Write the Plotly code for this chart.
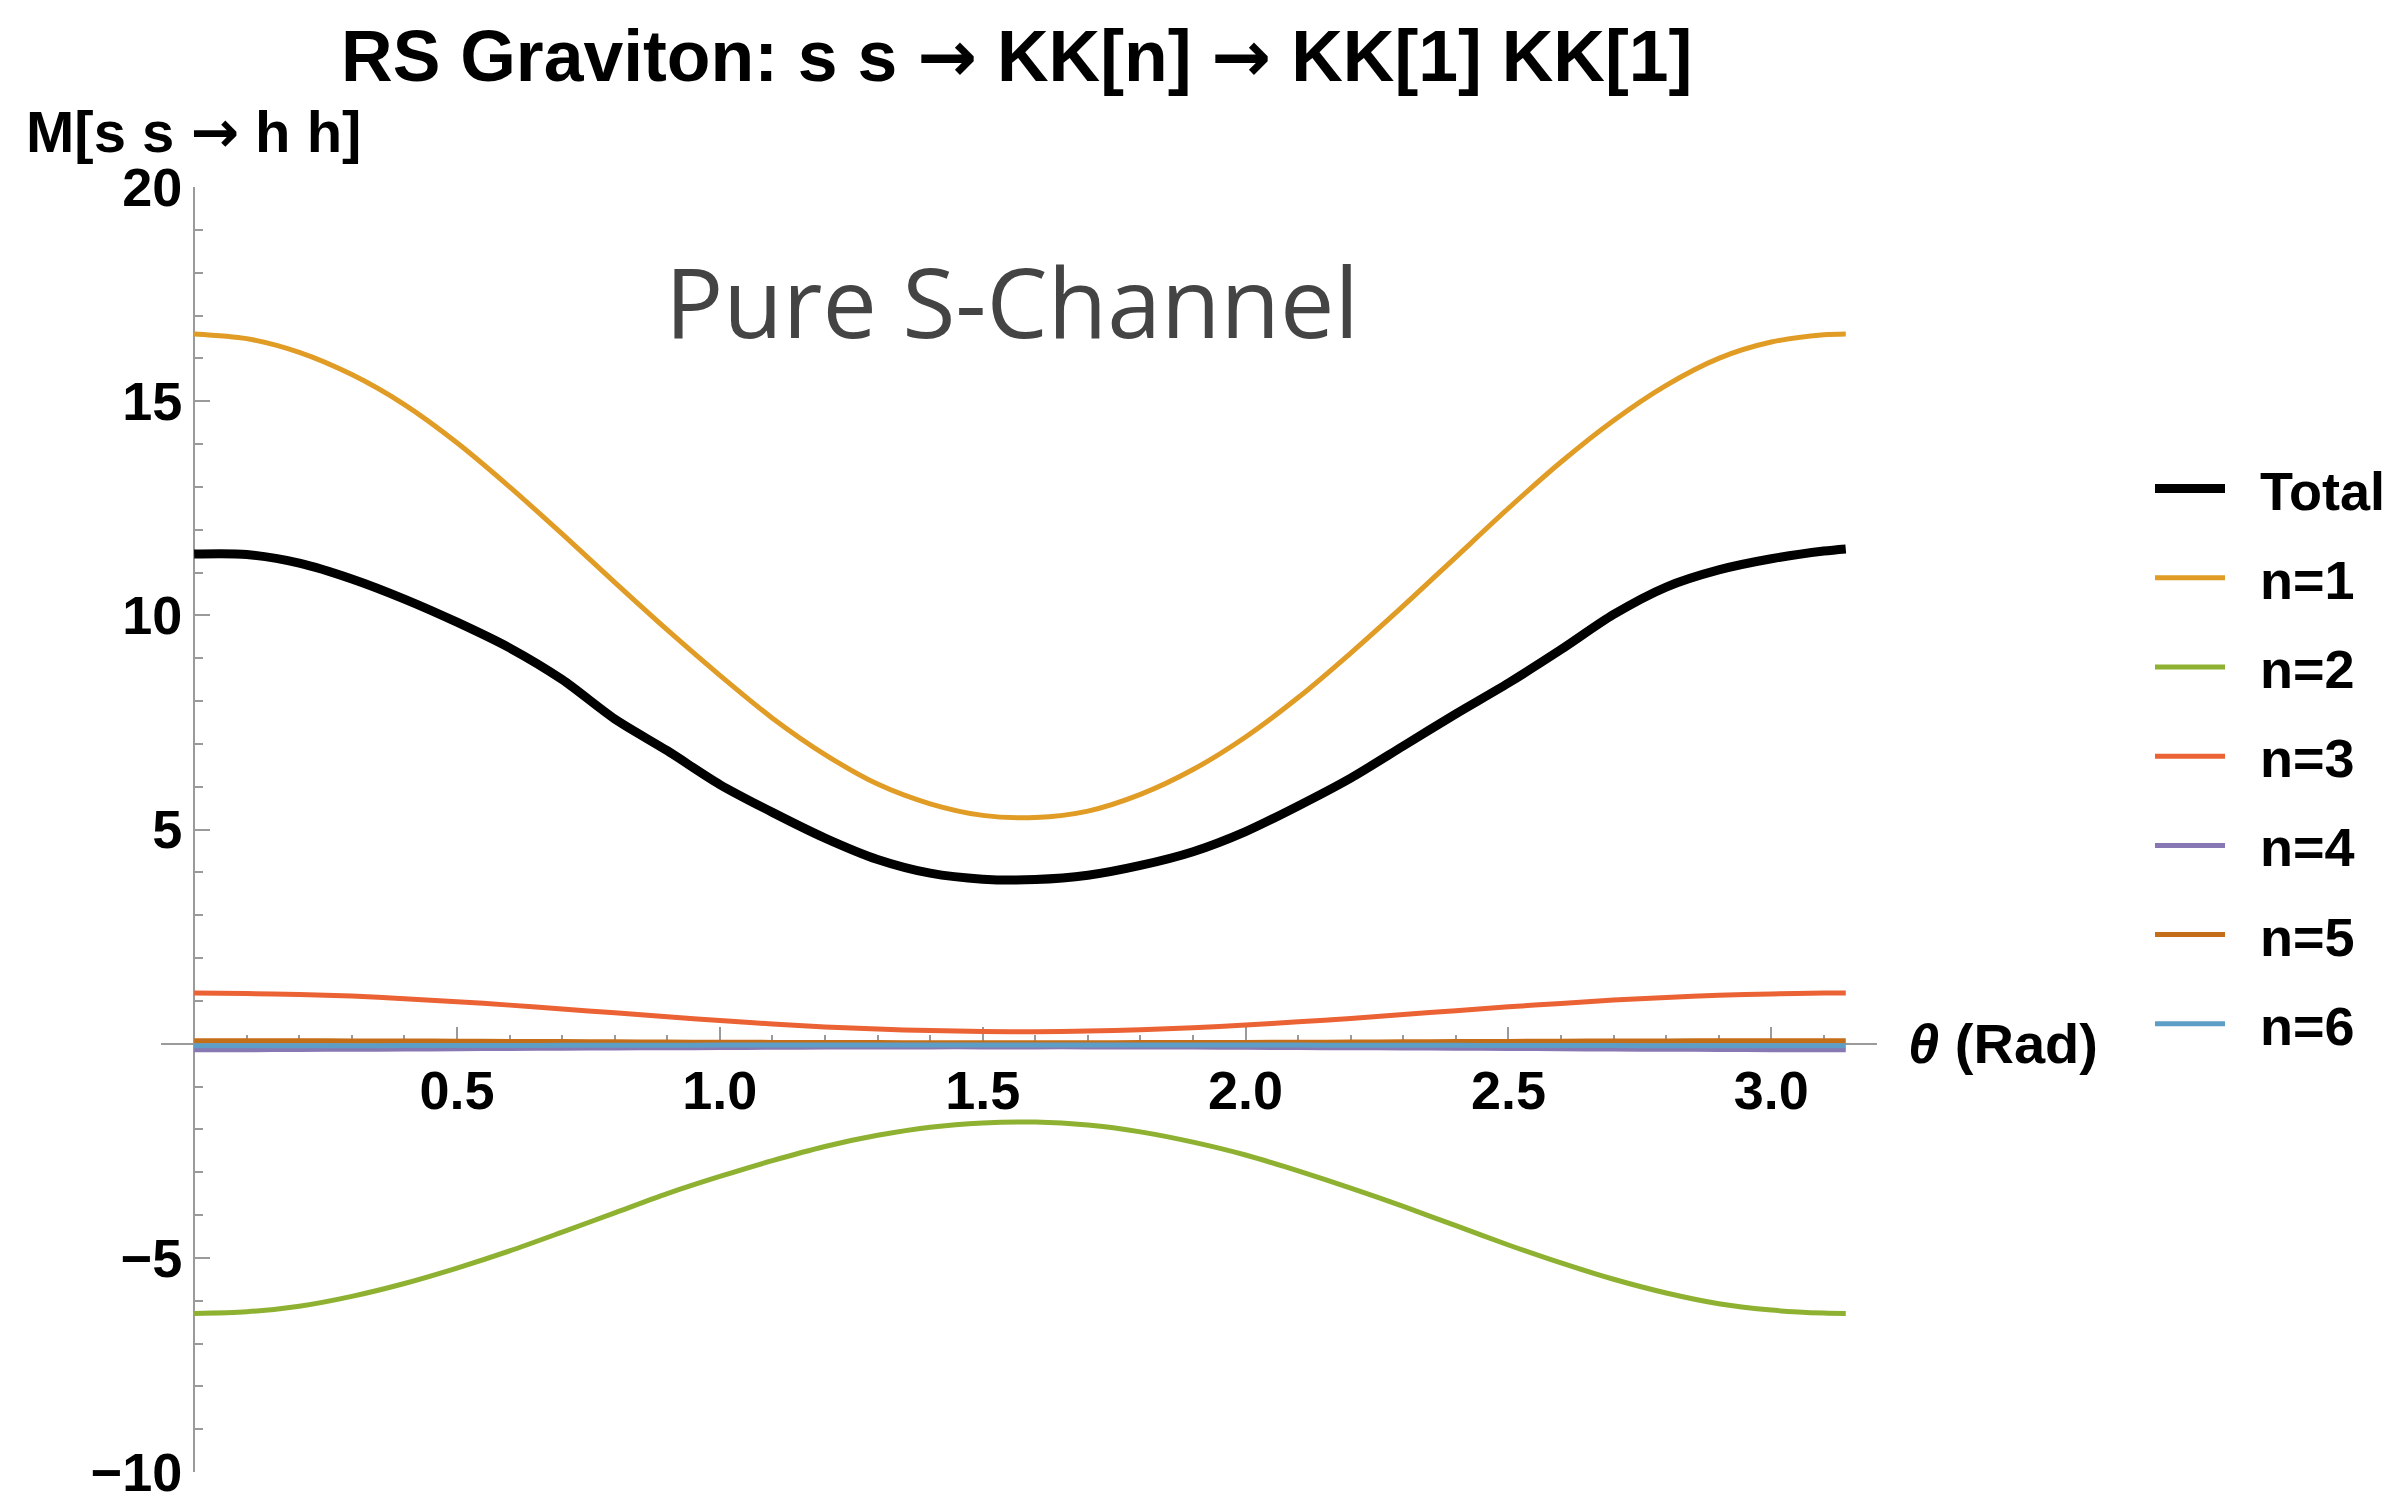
import plotly.graph_objects as go

# ---------------- data ----------------
theta = [0.0, 0.1, 0.2, 0.3, 0.4, 0.5, 0.6, 0.7, 0.8, 0.9, 1.0, 1.1, 1.2, 1.3, 1.4, 1.5,
         1.6, 1.7, 1.8, 1.9, 2.0, 2.1, 2.2, 2.3, 2.4, 2.5, 2.6, 2.7, 2.8, 2.9, 3.0, 3.1, 3.1416]

total = [11.43, 11.42, 11.22, 10.85, 10.38, 9.84, 9.24, 8.50, 7.58, 6.84, 6.05, 5.40, 4.80, 4.30, 3.98, 3.84,
         3.83, 3.93, 4.16, 4.48, 4.95, 5.55, 6.20, 6.95, 7.70, 8.42, 9.20, 10.02, 10.66, 11.06, 11.32, 11.50, 11.55]

n1 = [16.57, 16.46, 16.14, 15.62, 14.92, 14.03, 13.00, 11.90, 10.77, 9.66, 8.60, 7.60, 6.75, 6.06, 5.60, 5.33,
      5.28, 5.43, 5.82, 6.40, 7.16, 8.08, 9.12, 10.22, 11.36, 12.50, 13.58, 14.55, 15.37, 16.00, 16.38, 16.55, 16.57]

n2 = [-6.30, -6.26, -6.13, -5.90, -5.60, -5.24, -4.84, -4.40, -3.95, -3.50, -3.10, -2.73, -2.40, -2.14, -1.95, -1.85,
      -1.83, -1.90, -2.06, -2.30, -2.60, -2.97, -3.37, -3.80, -4.25, -4.70, -5.12, -5.50, -5.82, -6.07, -6.22, -6.29, -6.30]

n3 = [1.18, 1.17, 1.15, 1.11, 1.05, 0.98, 0.90, 0.81, 0.72, 0.63, 0.54, 0.46, 0.39, 0.34, 0.305, 0.285,
      0.28, 0.295, 0.325, 0.37, 0.435, 0.51, 0.59, 0.68, 0.77, 0.86, 0.94, 1.02, 1.08, 1.13, 1.16, 1.18, 1.18]

n4 = [-0.14, -0.14, -0.135, -0.13, -0.125, -0.12, -0.11, -0.105, -0.10, -0.095, -0.09, -0.085, -0.08, -0.08, -0.075, -0.075,
      -0.075, -0.075, -0.08, -0.08, -0.085, -0.09, -0.095, -0.10, -0.105, -0.11, -0.12, -0.125, -0.13, -0.135, -0.14, -0.14, -0.14]

n5 = [0.07, 0.07, 0.068, 0.065, 0.062, 0.058, 0.053, 0.048, 0.043, 0.038, 0.034, 0.030, 0.027, 0.025, 0.023, 0.022,
      0.022, 0.023, 0.025, 0.027, 0.030, 0.034, 0.038, 0.043, 0.048, 0.053, 0.058, 0.062, 0.065, 0.068, 0.07, 0.07, 0.07]

n6 = [-0.05, -0.05, -0.049, -0.047, -0.045, -0.043, -0.041, -0.039, -0.037, -0.035, -0.034, -0.033, -0.032, -0.031, -0.030, -0.030,
      -0.030, -0.030, -0.031, -0.032, -0.033, -0.034, -0.035, -0.037, -0.039, -0.041, -0.043, -0.045, -0.047, -0.049, -0.05, -0.05, -0.05]

series_names = ["Total", "n=1", "n=2", "n=3", "n=4", "n=5", "n=6"]
series_values = [total, n1, n2, n3, n4, n5, n6]
series_colors = ["#000000", "#E09C24", "#8FB131", "#EB6235", "#8778B3", "#C56E1A", "#5D9EC7"]
series_widths = [9, 5, 5, 5, 5, 5, 5]

x_ticks = [0.5, 1.0, 1.5, 2.0, 2.5, 3.0]
x_ticktext = ["0.5", "1.0", "1.5", "2.0", "2.5", "3.0"]
y_ticks = [-10, -5, 5, 10, 15, 20]
y_ticktext = ["\u221210", "\u22125", "5", "10", "15", "20"]

# ---------------- layout geometry ----------------
W, H = 2400, 1492
ML, MR, MT, MB = 161, 523, 187, 20
XMIN, XMAX = -0.063, 3.201
YMIN, YMAX = -10, 20
PW = W - ML - MR
PH = H - MT - MB


def px_x(px):
    return (px - ML) / PW


def px_y(py):
    return (H - MB - py) / PH


FONT = "Liberation Sans, Arial, sans-serif"
AXCOL = "#9a9a9a"
ARROW = '<span style="font-family:DejaVu Sans">\u2192</span>'
PAD = "\u00a0\u00a0"

fig = go.Figure()
# draw coloured series first, Total on top
order = [1, 2, 3, 4, 5, 6, 0]
for i in order:
    fig.add_trace(go.Scatter(
        x=theta, y=series_values[i], mode="lines", name=PAD + series_names[i],
        line=dict(color=series_colors[i], width=series_widths[i], shape="spline", smoothing=0.8),
        legendrank=i + 1, legendgroup=series_names[i],
    ))

fig.update_layout(
    width=W, height=H,
    margin=dict(l=ML, r=MR, t=MT, b=MB, autoexpand=False),
    paper_bgcolor="white", plot_bgcolor="white",
    font=dict(family=FONT, color="black"),
    showlegend=True,
    legend=dict(
        x=px_x(2150), y=px_y(447), xanchor="left", yanchor="top",
        font=dict(family=FONT, size=54, color="black", weight="bold"),
        itemwidth=70, tracegroupgap=16, bgcolor="rgba(0,0,0,0)",
        traceorder="grouped",
    ),
    xaxis=dict(
        range=[XMIN, XMAX], anchor="free", position=(0 - YMIN) / (YMAX - YMIN),
        showgrid=False, zeroline=False, showline=True, linecolor=AXCOL, linewidth=2,
        ticks="inside", ticklen=16, tickwidth=2, tickcolor=AXCOL,
        tickmode="array", tickvals=x_ticks, ticktext=x_ticktext,
        tickfont=dict(family=FONT, size=54, color="black", weight="bold"),
        ticklabelstandoff=0, ticklabeloverflow="allow",
        minor=dict(dtick=0.1, tick0=0, ticks="inside", ticklen=8, tickwidth=2, tickcolor=AXCOL, showgrid=False),
        layer="below traces",
    ),
    yaxis=dict(
        range=[YMIN, YMAX], anchor="free", position=(0 - XMIN) / (XMAX - XMIN),
        showgrid=False, zeroline=False, showline=True, linecolor=AXCOL, linewidth=2,
        ticks="inside", ticklen=15, tickwidth=2, tickcolor=AXCOL,
        tickmode="array", tickvals=y_ticks, ticktext=y_ticktext,
        tickfont=dict(family=FONT, size=54, color="black", weight="bold"),
        ticklabelstandoff=0, ticklabeloverflow="allow",
        minor=dict(dtick=1, tick0=0, ticks="inside", ticklen=8, tickwidth=2, tickcolor=AXCOL, showgrid=False),
        layer="below traces",
    ),
)

# title
fig.add_annotation(
    text="RS Graviton: s s " + ARROW + " KK[n] " + ARROW + " KK[1] KK[1]",
    xref="paper", yref="paper", x=px_x(1016), y=px_y(57), xanchor="center", yanchor="middle",
    showarrow=False, font=dict(family=FONT, size=71.5, color="black", weight="bold"),
)
# y-axis label
fig.add_annotation(
    text="M[s s " + ARROW + " h h]",
    xref="paper", yref="paper", x=px_x(24), y=px_y(132), xanchor="left", yanchor="middle",
    showarrow=False, font=dict(family=FONT, size=58, color="black", weight="bold"),
)
# x-axis label
fig.add_annotation(
    text="<i>\u03b8</i> (Rad)",
    xref="paper", yref="y", x=px_x(1906), y=0, xanchor="left", yanchor="middle",
    showarrow=False, font=dict(family=FONT, size=56, color="black", weight="bold"),
)
# in-plot note
fig.add_annotation(
    text="Pure S-Channel",
    xref="paper", yref="paper", x=px_x(1012), y=px_y(300), xanchor="center", yanchor="middle",
    showarrow=False, font=dict(family="Open Sans, sans-serif", size=97, color="#444444"),
)

fig.write_html("out.html")
